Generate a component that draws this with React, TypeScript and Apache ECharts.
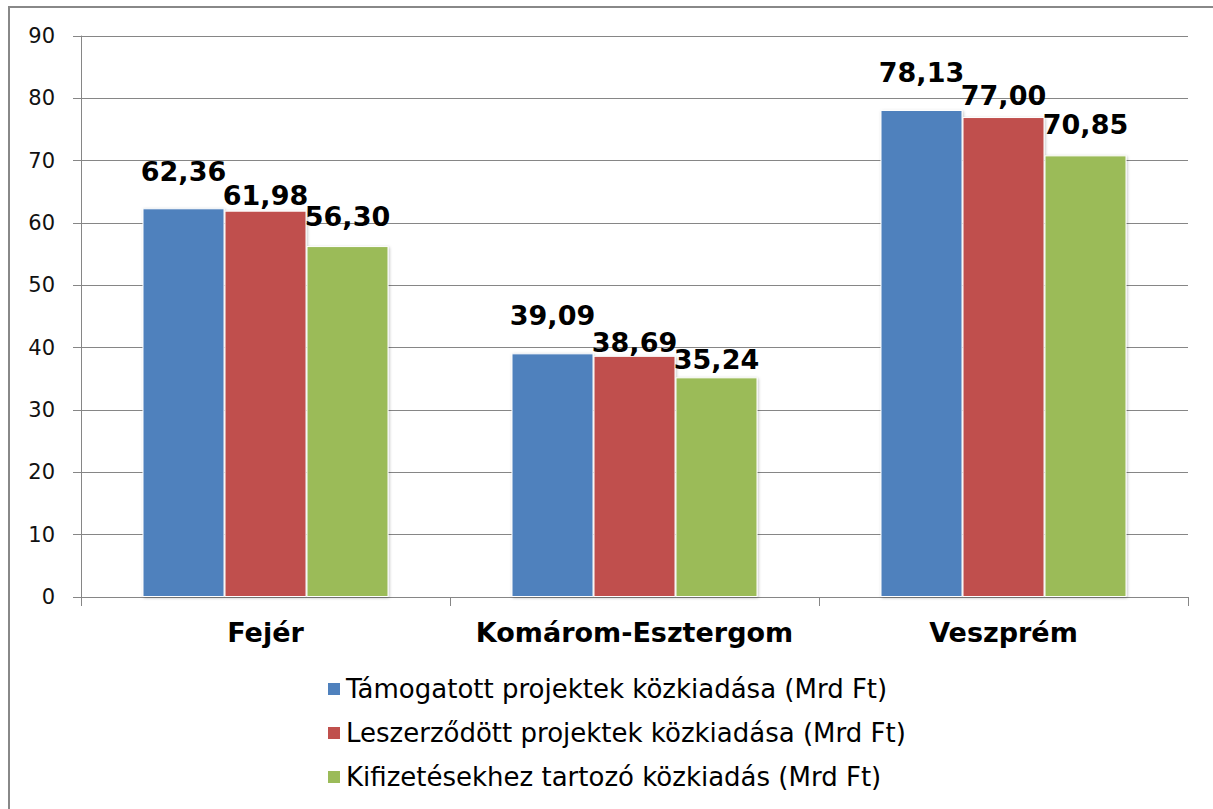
import React, { useEffect, useRef } from "react";
import * as echarts from "echarts";

const categories = ["Fejér", "Komárom-Esztergom", "Veszprém"];
const seriesNames = [
  "Támogatott projektek közkiadása (Mrd Ft)",
  "Leszerződött projektek közkiadása (Mrd Ft)",
  "Kifizetésekhez tartozó közkiadás (Mrd Ft)",
];
const supported = [62.36, 39.09, 78.13];
const contracted = [61.98, 38.69, 77.0];
const paid = [56.3, 35.24, 70.85];
const yTicks = [0, 10, 20, 30, 40, 50, 60, 70, 80, 90];

// style: label lift above each bar (px), per series / per category
const labelLift = [
  [23, 24, 24],
  [2, 0, 8],
  [16, 4, 17],
];
const colors = ["#4F81BD", "#C0504D", "#9BBB59"];

const FONT = "DejaVu Sans";

export default function App() {
  const ref = useRef<HTMLDivElement>(null);
  useEffect(() => {
    if (!ref.current) return;
    const chart = echarts.init(ref.current, undefined, { renderer: "svg" });
    const values = [supported, contracted, paid];
    const fmt = (v: number) => v.toFixed(2).replace(".", ",");
    chart.setOption({
      animation: false,
      backgroundColor: "#ffffff",
      textStyle: { fontFamily: FONT },
      grid: { left: 81, right: 25, top: 36, bottom: 212, containLabel: false },
      legend: {
        orient: "vertical",
        left: 321,
        top: 671,
        itemWidth: 14,
        itemHeight: 14,
        itemGap: 18,
        icon: "rect",
        textStyle: { fontFamily: FONT, fontSize: 26, lineHeight: 26, color: "#000" },
        data: seriesNames,
      },
      xAxis: {
        type: "category",
        data: categories,
        axisLine: { lineStyle: { color: "#868686", width: 1 } },
        axisTick: { show: true, length: 9, lineStyle: { color: "#868686" } },
        axisLabel: {
          interval: 0,
          fontFamily: FONT,
          fontWeight: "bold",
          fontSize: 27,
          color: "#000",
          margin: 22,
        },
      },
      yAxis: {
        type: "value",
        min: yTicks[0],
        max: yTicks[yTicks.length - 1],
        interval: 10,
        axisLine: { show: true, lineStyle: { color: "#868686", width: 1 } },
        axisTick: { show: true, length: 8, lineStyle: { color: "#868686" } },
        splitLine: { lineStyle: { color: "#868686", width: 1 } },
        axisLabel: { fontFamily: FONT, fontSize: 21, color: "#111", margin: 26 },
      },
      series: values.map((arr, si) => ({
        name: seriesNames[si],
        type: "bar",
        barWidth: 82,
        barGap: "0%",
        itemStyle: {
          color: colors[si],
          borderColor: "#ffffff",
          borderWidth: 1,
          shadowBlur: 3,
          shadowColor: "rgba(0,0,0,0.25)",
          shadowOffsetX: 1,
          shadowOffsetY: 1,
        },
        data: arr.map((v, ci) => ({
          value: v,
          label: {
            show: true,
            position: "top",
            distance: labelLift[si][ci],
            formatter: () => fmt(v),
            fontFamily: FONT,
            fontWeight: "bold",
            fontSize: 27,
            lineHeight: 27,
            color: "#000",
          },
        })),
      })),
      graphic: [
        {
          type: "rect",
          shape: { x: 9, y: 7, width: 1230, height: 830 },
          style: { fill: "none", stroke: "#888888", lineWidth: 2 },
          silent: true,
          z: 100,
        },
      ],
    });
    return () => chart.dispose();
  }, []);
  return (
    <div
      ref={ref}
      style={{ position: "absolute", left: 0, top: 0, width: 1213, height: 809 }}
    />
  );
}
